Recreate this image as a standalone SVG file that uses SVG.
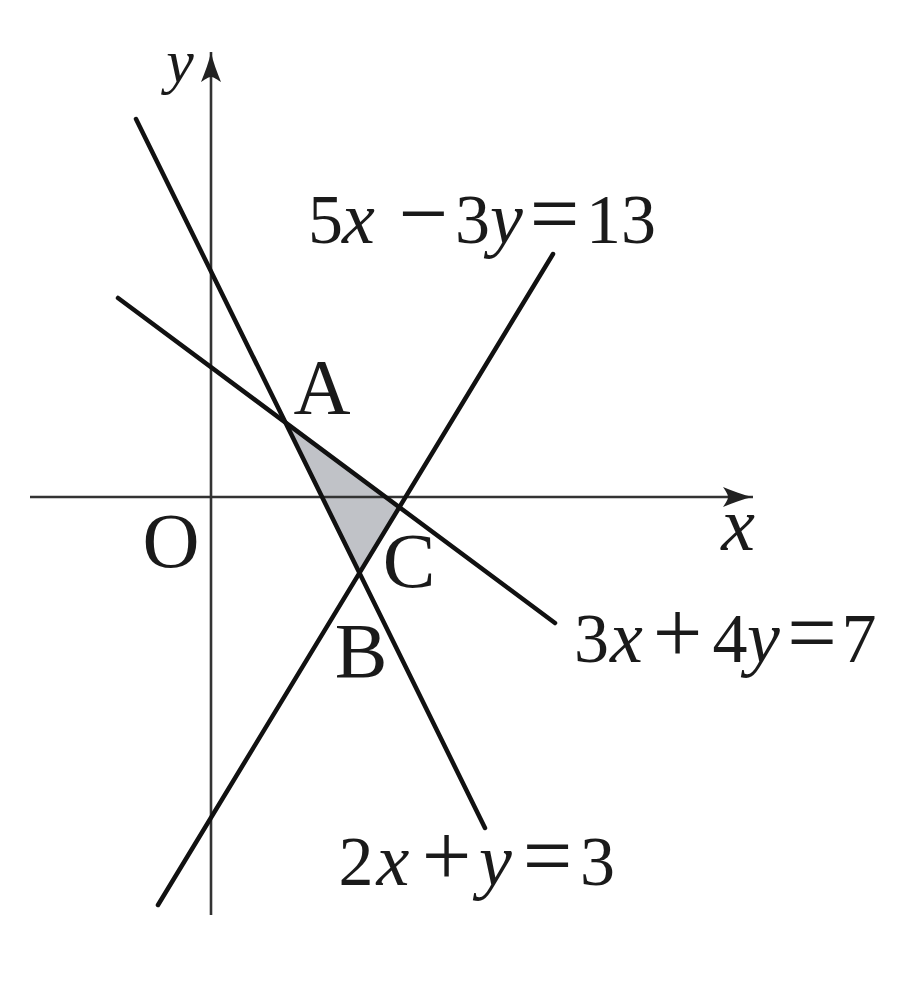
<svg xmlns="http://www.w3.org/2000/svg" width="900" height="995" viewBox="0 0 900 995">
<style>
.axis{stroke:#333;stroke-width:2.6;fill:none}
.ln{stroke:#111;stroke-width:4.5;fill:none;stroke-linecap:round}
.t{font-family:"Liberation Serif","Times New Roman",serif;fill:#1a1a1a;text-anchor:middle}
.i{font-style:italic}
.op{font-size:88px}
.d{font-size:70px}
.v{font-size:74px}
</style>
<defs>
<marker id="arr" markerUnits="userSpaceOnUse" markerWidth="40" markerHeight="30" refX="0" refY="0" viewBox="-32 -15 40 30" orient="auto" overflow="visible">
<path d="M0,0 C-10,-2 -20,-6 -30,-10 C-26,-4 -25,-2 -25,0 C-25,2 -26,4 -30,10 C-20,6 -10,2 0,0 Z" fill="#222"/>
</marker>
</defs>
<g id="region">
<polygon points="285.4,422.5 359.5,573.0 399.4,507.2" fill="#c0c2c7"/>
</g>
<g id="axes">
<line class="axis" x1="30" y1="497" x2="753" y2="497" marker-end="url(#arr)"/>
<line class="axis" x1="211" y1="915" x2="211" y2="52" marker-end="url(#arr)"/>
</g>
<g id="connectors">
<line class="ln" x1="136" y1="119" x2="485" y2="828"/>
<line class="ln" x1="118" y1="298" x2="555" y2="623"/>
<line class="ln" x1="158" y1="905" x2="553" y2="254"/>
</g>
<g id="labels">
<text class="t i" x="180" y="82" font-size="62">y</text>
<text class="t i" x="738" y="550" font-size="76">x</text>
<text class="t" x="171" y="567" font-size="79">O</text>
<text class="t" x="322" y="413" font-size="79">A</text>
<text class="t" x="361" y="677" font-size="79">B</text>
<text class="t" x="409" y="587" font-size="79">C</text>
<text class="t" y="243"><tspan class="d" x="325.5">5</tspan><tspan class="v i" x="358.5">x</tspan><tspan class="op" x="423.5">−</tspan><tspan class="d" x="472.5">3</tspan><tspan class="v i" x="506.5">y</tspan><tspan class="op" x="554.5">=</tspan><tspan class="d" x="621">13</tspan></text>
<text class="t" y="662"><tspan class="d" x="591.5">3</tspan><tspan class="v i" x="626.5">x</tspan><tspan class="op" x="677.5">+</tspan><tspan class="d" x="730">4</tspan><tspan class="v i" x="763.5">y</tspan><tspan class="op" x="812">=</tspan><tspan class="d" x="859">7</tspan></text>
<text class="t" y="885"><tspan class="d" x="356">2</tspan><tspan class="v i" x="393">x</tspan><tspan class="op" x="446.5">+</tspan><tspan class="v i" x="495.5">y</tspan><tspan class="op" x="547.5">=</tspan><tspan class="d" x="597.5">3</tspan></text>
</g>
</svg>
